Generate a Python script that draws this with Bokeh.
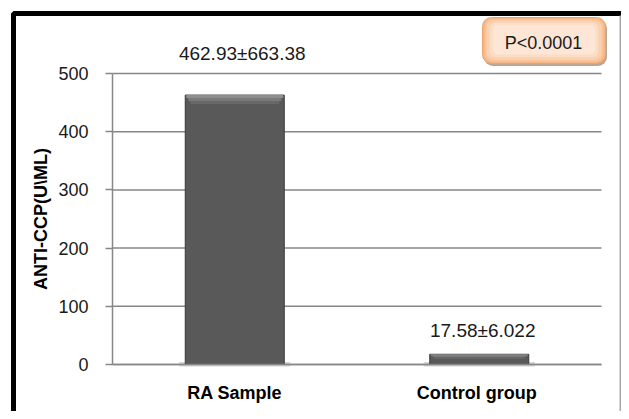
from bokeh.plotting import figure
from bokeh.models import (ColumnDataSource, Range1d, FixedTicker, LinearAxis,
                          LabelSet, Label, BoxAnnotation)
from bokeh.core.properties import value
from bokeh.embed import file_html
from bokeh.resources import INLINE

# ---- data ----
categories = ["RA Sample", "Control  group"]
means = [462.93, 17.58]
sds = [663.38, 6.022]
y_ticks = [0, 100, 200, 300, 400, 500]
y_label = "ANTI-CCP(U\\ML)"
p_text = "P<0.0001"

# ---- layout constants (pixels) ----
W, H = 621, 411
AX_L, AX_R, AX_T, AX_B = 112, 601, 73, 364   # plot area in canvas pixels
YMAX = 500
N = len(categories)
PX_X = (AX_R - AX_L) / N
PX_Y = (AX_B - AX_T) / YMAX

def dx(cx):
    return (cx - AX_L) / PX_X

def dy(cy):
    return (AX_B - cy) / PX_Y

FONT = "Liberation Sans"
GRID = "#878787"

p = figure(x_range=Range1d(dx(0), dx(W)), y_range=Range1d(dy(H), dy(0)),
           width=W, height=H, output_backend="svg", toolbar_location=None,
           x_axis_type=None, y_axis_type=None,
           min_border_left=0, min_border_right=0,
           min_border_top=0, min_border_bottom=0)
p.outline_line_color = None
p.background_fill_color = "white"
p.border_fill_color = "white"

centers = [i + 0.5 for i in range(N)]

# grid lines over the plot area
p.segment(x0=0, x1=N, y0=y_ticks, y1=y_ticks, line_color=GRID, line_width=1.5)

# y axis
ya = LinearAxis(fixed_location=0, bounds=(0, YMAX),
                ticker=FixedTicker(ticks=y_ticks))
ya.axis_line_color = GRID
ya.axis_line_width = 1.5
ya.major_tick_line_color = GRID
ya.major_tick_line_width = 1.5
ya.major_tick_out = 7
ya.major_tick_in = 0
ya.minor_tick_line_color = None
ya.major_label_standoff = 17
ya.major_label_text_font = FONT
ya.major_label_text_font_size = "18px"
ya.major_label_text_color = "#1a1a1a"
ya.axis_label = y_label
ya.axis_label_text_font = FONT
ya.axis_label_text_font_style = "bold"
ya.axis_label_text_font_size = "18px"
ya.axis_label_text_color = "#000000"
ya.axis_label_standoff = 4
p.add_layout(ya, "left")

# x axis (categories)
xa = LinearAxis(fixed_location=0, bounds=(0, N),
                ticker=FixedTicker(ticks=centers))
xa.major_label_overrides = {c: name for c, name in zip(centers, categories)}
xa.axis_line_color = GRID
xa.axis_line_width = 1.5
xa.major_tick_line_color = None
xa.minor_tick_line_color = None
xa.major_label_standoff = 12
xa.major_label_text_font = FONT
xa.major_label_text_font_style = "bold"
xa.major_label_text_font_size = "18px"
xa.major_label_text_color = "#000000"
p.add_layout(xa, "below")

# ---- bars ----
bw = 99 / PX_X
band = [min(9 / PX_Y, m * 0.45) for m in means]
src = ColumnDataSource(dict(
    x=centers, top=means,
    b1=[m - b / 3 for m, b in zip(means, band)],
    b2=[m - 2 * b / 3 for m, b in zip(means, band)],
    b3=[m - b for m, b in zip(means, band)],
    text=[f"{m:g}\u00b1{s:g}" for m, s in zip(means, sds)],
    xoff=[7.5, 3.5], yoff=[41.5, 24],
))
# soft shadow at base
p.vbar(x="x", top=2.5 / PX_Y, bottom=-2 / PX_Y, width=bw + 12 / PX_X, source=src,
       fill_color="#bdbdbd", line_color=None, fill_alpha=0.6)
p.vbar(x="x", top="top", bottom=0, width=bw, source=src,
       fill_color="#595959", line_color="#3a3a3a", line_width=1)
p.vbar(x="x", top="top", bottom="b1", width=bw - 2 / PX_X, source=src,
       fill_color="#8e8e8e", line_color=None)
p.vbar(x="x", top="b1", bottom="b2", width=bw - 6 / PX_X, source=src,
       fill_color="#7a7a7a", line_color=None)
p.vbar(x="x", top="b2", bottom="b3", width=bw - 10 / PX_X, source=src,
       fill_color="#686868", line_color=None)

# value labels
p.add_layout(LabelSet(x="x", y="top", text="text", source=src,
                      x_offset="xoff", y_offset="yoff",
                      text_align="center", text_baseline="middle",
                      text_font=value(FONT), text_font_size=value("19px"),
                      text_color="#1a1a1a"))

# ---- P value box (layered to imitate a soft gradient) ----
bl, br, bt, bb = dx(482), dx(605), dy(17), dy(63)
p.add_layout(BoxAnnotation(left=bl + 1.5 / PX_X, right=br + 1.5 / PX_X,
                           top=bt - 2 / PX_Y, bottom=bb - 2.5 / PX_Y,
                           fill_color="#8a6a50", fill_alpha=0.6,
                           line_color=None, border_radius=9))
layers = [(0, "#f5b585", 9), (2, "#f8c49b", 8), (4, "#fad1b0", 7),
          (7, "#fcdcc3", 6), (10, "#fde6d5", 5)]
for i, (ins, col, rad) in enumerate(layers):
    p.add_layout(BoxAnnotation(
        left=bl + ins / PX_X, right=br - ins / PX_X,
        top=bt - ins * 0.7 / PX_Y, bottom=bb + ins * 0.9 / PX_Y,
        fill_color=col, fill_alpha=1,
        line_color="#eea46a" if i == 0 else None, line_alpha=1,
        line_width=1, border_radius=rad))
p.add_layout(Label(x=dx(543), y=dy(42), text=p_text,
                   text_align="center", text_baseline="middle",
                   text_font=FONT, text_font_size="18px",
                   text_color="#1a1a1a"))

# ---- outer figure frame (thick black, thin grey right edge) ----
p.add_layout(BoxAnnotation(left=dx(13), right=dx(W + 30), top=dy(13),
                           bottom=dy(H + 30), fill_color=None,
                           fill_alpha=0, line_color="black", line_alpha=1,
                           line_width=5))
p.add_layout(BoxAnnotation(left=dx(619), right=dx(620.5), top=dy(15),
                           bottom=dy(H + 30), fill_color="#a8a8a8",
                           fill_alpha=1, line_color=None))

open("out.html", "w").write(file_html(p, INLINE))
